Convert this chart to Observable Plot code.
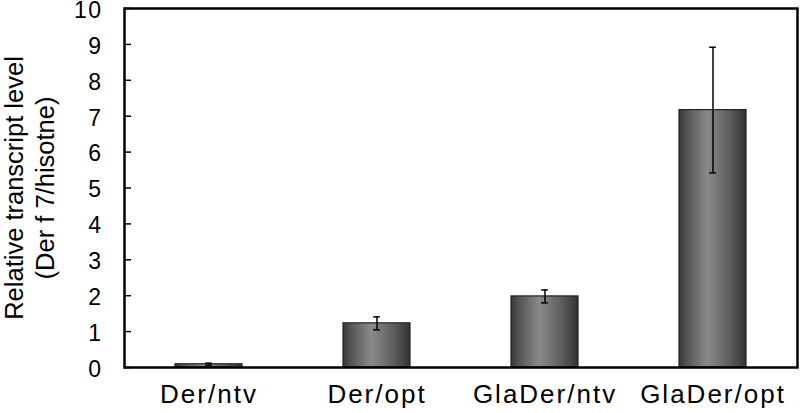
<!DOCTYPE html>
<html>
<head>
<meta charset="utf-8">
<script src="https://cdn.jsdelivr.net/npm/d3@7"></script>
<script src="https://cdn.jsdelivr.net/npm/@observablehq/plot@0.6"></script>
<style>
  html, body { margin: 0; padding: 0; background: #fff; }
  #chart svg { font-family: "Liberation Sans", Arial, sans-serif; }
  #chart g[aria-label="x-axis tick label"] text { letter-spacing: 2px; font-size: 26px; }
  #chart g[aria-label="y-axis tick label"] text { letter-spacing: 1.5px; font-size: 23px; }
</style>
</head>
<body>
<div id="chart"></div>
<script>
const categories = ["Der/ntv", "Der/opt", "GlaDer/ntv", "GlaDer/opt"];
const means = [0.09, 1.23, 1.98, 7.17];
const errors = [0.03, 0.18, 0.18, 1.75];
const yTicks = [0, 1, 2, 3, 4, 5, 6, 7, 8, 9, 10];
const yTitle = "Relative transcript level\n(Der f 7/hisotne)";

const data = categories.map((c, i) => ({cat: c, v: means[i], lo: means[i] - errors[i], hi: means[i] + errors[i]}));

const W = 800, H = 413;
const mL = 124, mR = 3, mT = 8, mB = 46;
const step = (W - mL - mR) / 4;
const bw = step * 0.4;
const capW = 7;

const plot = Plot.plot({
  width: W,
  height: H,
  marginLeft: mL,
  marginRight: mR,
  marginTop: mT,
  marginBottom: mB,
  style: {fontFamily: "'Liberation Sans', Arial, sans-serif", background: "#fff", color: "#000"},
  x: {domain: categories, paddingInner: 0.6, paddingOuter: 0.3, label: null},
  y: {domain: [0, 10], label: null},
  marks: [
    Plot.barY(data, {x: "cat", y: "v", fill: "url(#barGrad)", stroke: "#222", strokeWidth: 1.2}),
    Plot.ruleX(data, {x: "cat", y1: "lo", y2: "hi", stroke: "#000", strokeWidth: 1.5}),
    Plot.tickY(data, {x: "cat", y: "hi", stroke: "#000", strokeWidth: 1.5, insetLeft: (bw - capW) / 2, insetRight: (bw - capW) / 2}),
    Plot.tickY(data, {x: "cat", y: "lo", stroke: "#000", strokeWidth: 1.5, insetLeft: (bw - capW) / 2, insetRight: (bw - capW) / 2}),
    Plot.frame({stroke: "#000", strokeWidth: 2.5}),
    Plot.axisY({ticks: yTicks, tickSize: 0, tickPadding: 22, fontSize: 23, dy: 2, tickFormat: d => String(d)}),
    Plot.axisY({ticks: yTicks, tickSize: -7, text: null, strokeWidth: 1.5}),
    Plot.axisX({tickSize: 0, tickPadding: 17, fontSize: 26}),
    Plot.text([yTitle], {frameAnchor: "left", text: d => d, rotate: -90, dx: -96, fontSize: 25.5, lineHeight: 1.2, textAnchor: "middle", lineAnchor: "middle", fill: "#000"})
  ]
});

// gradient definition for the bars
const svgNS = "http://www.w3.org/2000/svg";
const defs = document.createElementNS(svgNS, "defs");
const grad = document.createElementNS(svgNS, "linearGradient");
grad.setAttribute("id", "barGrad");
grad.setAttribute("x1", "0"); grad.setAttribute("x2", "1");
grad.setAttribute("y1", "0"); grad.setAttribute("y2", "0");
[["0%", "#383838"], ["12%", "#555555"], ["42%", "#8a8a8a"], ["75%", "#5e5e5e"], ["100%", "#333333"]].forEach(([o, c]) => {
  const s = document.createElementNS(svgNS, "stop");
  s.setAttribute("offset", o); s.setAttribute("stop-color", c);
  grad.appendChild(s);
});
defs.appendChild(grad);
plot.insertBefore(defs, plot.firstChild);

document.getElementById("chart").appendChild(plot);
</script>
</body>
</html>
